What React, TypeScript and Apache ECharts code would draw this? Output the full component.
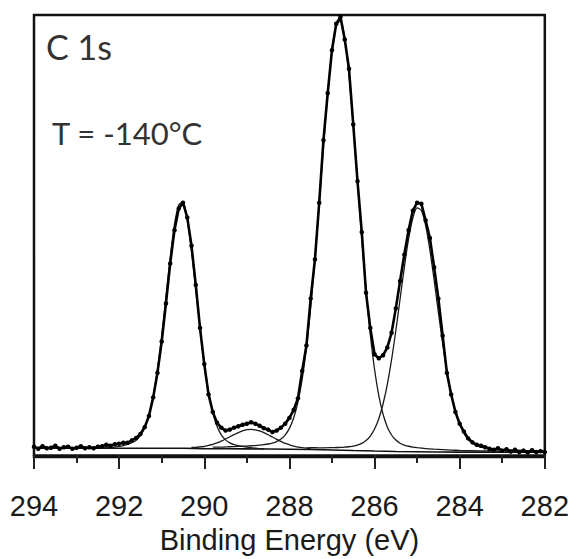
import React, { useEffect, useRef } from "react";
import * as echarts from "echarts";

// Binding energies (eV) of the measured points
const energies = [
  294.0, 293.9, 293.8, 293.7, 293.6, 293.5, 293.4, 293.3, 293.2, 293.1,
  293.0, 292.9, 292.8, 292.7, 292.6, 292.5, 292.4, 292.3, 292.2, 292.1,
  292.0, 291.9, 291.8, 291.7, 291.6, 291.5, 291.4, 291.3, 291.2, 291.1,
  291.0, 290.9, 290.8, 290.7, 290.6, 290.5, 290.4, 290.3, 290.2, 290.1,
  290.0, 289.9, 289.8, 289.7, 289.6, 289.5, 289.4, 289.3, 289.2, 289.1,
  289.0, 288.9, 288.8, 288.7, 288.6, 288.5, 288.4, 288.3, 288.2, 288.1,
  288.0, 287.9, 287.8, 287.7, 287.6, 287.5, 287.4, 287.3, 287.2, 287.1,
  287.0, 286.9, 286.8, 286.7, 286.6, 286.5, 286.4, 286.3, 286.2, 286.1,
  286.0, 285.9, 285.8, 285.7, 285.6, 285.5, 285.4, 285.3, 285.2, 285.1,
  285.0, 284.9, 284.8, 284.7, 284.6, 284.5, 284.4, 284.3, 284.2, 284.1,
  284.0, 283.9, 283.8, 283.7, 283.6, 283.5, 283.4, 283.3, 283.2, 283.1,
  283.0, 282.9, 282.8, 282.7, 282.6, 282.5, 282.4, 282.3, 282.2, 282.1,
  282.0,
];

// Measured intensity (arb. units)
const intensity = [
  8.5, 6.5, 9, 7, 7.5, 9.5, 6.5, 8, 8.5, 6.5,
  7.5, 9, 7, 8, 7, 8.5, 9, 10.5, 9.5, 11,
  11.5, 12.5, 12.5, 15, 17.5, 21.5, 28.5, 40, 59, 84,
  116, 155, 196, 230, 252, 258, 243, 214, 174, 130,
  93, 62, 44, 33, 28, 25, 26, 28, 29.5, 31,
  32, 33.5, 32, 30, 27.5, 26, 23.5, 25, 28, 32,
  38, 46, 58, 86, 112, 160, 200, 258, 322, 370,
  414, 441, 448, 425, 395, 338, 280, 228, 166, 130,
  103, 99, 102, 110, 125, 150, 178, 205, 230, 250,
  258, 257, 240, 222, 192, 160, 122, 84, 62, 44,
  32, 24, 17, 13, 10.5, 9.5, 8, 6.5, 5.5, 7,
  4.5, 6, 3.5, 5.5, 3, 4.5, 2.5, 5, 3, 4,
  3,
];

// Background under the fit
const background = [
  [294, 7], [291, 7], [290.5, 6.9], [290, 6.6], [289.5, 6.4], [289, 6.3],
  [288.5, 6.2], [288, 6.0], [287.5, 5.7], [287, 5.2], [286.5, 4.6], [286, 4.1],
  [285.5, 3.7], [285, 3.4], [284.5, 3.1], [284, 3], [282, 3],
];

// Fitted component at ~290.5 eV
const peak1 = [
  [292.5, 7.1], [292.4, 7.3], [292.3, 7.5], [292.2, 7.8], [292.1, 8.2], [292.0, 8.8],
  [291.9, 9.7], [291.8, 10.9], [291.7, 12.6], [291.6, 15.2], [291.5, 19.8], [291.4, 27.8],
  [291.3, 40.8], [291.2, 59.8], [291.1, 87.3], [291.0, 121.9], [290.9, 161.9], [290.8, 201.9],
  [290.7, 235.8], [290.6, 255.8], [290.5, 258.3], [290.4, 240.7], [290.3, 208.7], [290.2, 169.6],
  [290.1, 129.6], [290.0, 93.5], [289.9, 64.5], [289.8, 43.4], [289.7, 29.4], [289.6, 20.6],
  [289.5, 15.5], [289.4, 12.5], [289.3, 10.7], [289.2, 9.6], [289.1, 8.8], [289.0, 8.2],
  [288.9, 7.6], [288.8, 7.0], [288.7, 6.6], [288.6, 6.3],
];

// Fitted component at ~288.9 eV
const peak2 = [
  [290.3, 7.7], [290.2, 7.9], [290.1, 8.4], [290.0, 8.9], [289.9, 9.9], [289.8, 11.0],
  [289.7, 12.5], [289.6, 14.3], [289.5, 16.4], [289.4, 18.7], [289.3, 20.9], [289.2, 23.0],
  [289.1, 24.7], [289.0, 25.9], [288.9, 26.3], [288.8, 25.8], [288.7, 24.6], [288.6, 22.9],
  [288.5, 20.8], [288.4, 18.4], [288.3, 16.1], [288.2, 14.0], [288.1, 12.0], [288.0, 10.5],
  [287.9, 9.2], [287.8, 8.2], [287.7, 7.5], [287.6, 7.0], [287.5, 6.6],
];

// Fitted component at ~286.8 eV
const peak3 = [
  [289.8, 8.1], [289.6, 8.2], [289.4, 8.5], [289.2, 8.8], [289.0, 9.2], [288.9, 9.5],
  [288.8, 9.7], [288.7, 10.1], [288.6, 10.6], [288.5, 11.3], [288.4, 12.3], [288.3, 13.8],
  [288.2, 16.3], [288.1, 20.4], [288.0, 27.3], [287.9, 37.9], [287.8, 54.2], [287.7, 77.6],
  [287.6, 109.8], [287.5, 151.0], [287.4, 200.9], [287.3, 257.1], [287.2, 315.1], [287.1, 369.4],
  [287.0, 413.1], [286.9, 439.4], [286.8, 443.9], [286.7, 425.7], [286.6, 388.0], [286.5, 336.9],
  [286.4, 279.4], [286.3, 221.6], [286.2, 168.6], [286.1, 123.6], [286.0, 87.7], [285.9, 60.7],
  [285.8, 41.7], [285.7, 28.8], [285.6, 20.5], [285.5, 15.4], [285.4, 12.1], [285.3, 10.1],
  [285.2, 9.0], [285.1, 8.1], [285.0, 7.5], [284.8, 6.6], [284.6, 6.0], [284.4, 5.5],
  [284.2, 5.05], [284.0, 4.75], [283.5, 4.3], [283.0, 4.0],
];

// Fitted component at ~285.0 eV
const peak4 = [
  [287.6, 7.4], [287.4, 7.45], [287.2, 7.4], [287.0, 7.55], [286.9, 7.7], [286.8, 7.75],
  [286.7, 8.0], [286.6, 8.5], [286.5, 9.1], [286.4, 10.2], [286.3, 11.9], [286.2, 14.8],
  [286.1, 19.4], [286.0, 26.6], [285.9, 37.2], [285.8, 52.2], [285.7, 72.2], [285.6, 97.5],
  [285.5, 127.1], [285.4, 159.6], [285.3, 192.0], [285.2, 221.0], [285.1, 242.4], [285.0, 252.8],
  [284.9, 250.0], [284.8, 234.9], [284.7, 209.8], [284.6, 178.9], [284.5, 145.9], [284.4, 114.2],
  [284.3, 86.0], [284.2, 62.8], [284.1, 44.7], [284.0, 31.4], [283.9, 22.2], [283.8, 16.1],
  [283.7, 12.2], [283.6, 9.7], [283.5, 8.2], [283.4, 7.2], [283.3, 6.5], [283.2, 6.05],
  [283.1, 5.75], [283.0, 5.5], [282.5, 4.7], [282.0, 4.1],
];

const xMin = 282;
const xMax = 294;
const xStep = 2;
const axisTitle = "Binding Energy (eV)";
const panelLabel = "C 1s";
const tempLabel = "T = -140°C";

export default function App() {
  const ref = useRef<HTMLDivElement>(null);

  useEffect(() => {
    if (!ref.current) return;
    const chart = echarts.init(ref.current, null, { renderer: "svg" });
    const compLine = (data: number[][]) => ({
      type: "line",
      data,
      smooth: 0.3,
      symbol: "none",
      lineStyle: { color: "#1a1a1a", width: 1.3 },
      z: 2,
    });
    chart.setOption({
      animation: false,
      backgroundColor: "#ffffff",
      grid: {
        left: 34,
        right: 25.5,
        top: 15,
        bottom: 92,
        show: true,
        borderColor: "#111",
        borderWidth: 2.5,
      },
      xAxis: {
        type: "value",
        min: xMin,
        max: xMax,
        interval: xStep,
        inverse: true,
        offset: 6,
        axisLine: { show: true, lineStyle: { color: "#111", width: 2.5 } },
        axisTick: { show: true, length: 14, lineStyle: { color: "#222", width: 2 } },
        minorTick: { show: true, splitNumber: 2, length: 8, lineStyle: { color: "#222", width: 2 } },
        splitLine: { show: false },
        minorSplitLine: { show: false },
        axisLabel: {
          fontFamily: "Liberation Sans, Arial, sans-serif",
          fontSize: 29,
          color: "#1a1a1a",
          margin: 28,
        },
        name: axisTitle,
        nameLocation: "middle",
        nameGap: 62,
        nameTextStyle: {
          fontFamily: "Liberation Sans, Arial, sans-serif",
          fontSize: 29,
          color: "#1a1a1a",
        },
      },
      yAxis: { type: "value", min: -2, max: 450, show: false },
      graphic: [
        {
          type: "text",
          x: 46,
          y: 46.5,
          style: {
            text: panelLabel,
            font: "34px Lato",
            fill: "#333",
            textVerticalAlign: "middle",
            verticalAlign: "middle",
          },
        },
        {
          type: "text",
          x: 52,
          y: 133,
          style: {
            text: tempLabel,
            font: "31px Lato",
            fill: "#333",
            textVerticalAlign: "middle",
            verticalAlign: "middle",
          },
        },
      ],
      series: [
        {
          type: "line",
          data: background,
          symbol: "none",
          lineStyle: { color: "#111", width: 1.6 },
          z: 2,
        },
        compLine(peak1),
        compLine(peak2),
        compLine(peak3),
        compLine(peak4),
        {
          type: "line",
          data: energies.map((e, i) => [e, intensity[i]]),
          symbol: "circle",
          symbolSize: 4.5,
          showSymbol: true,
          itemStyle: { color: "#000" },
          lineStyle: { color: "#000", width: 2.6 },
          z: 5,
        },
      ],
    });
    return () => chart.dispose();
  }, []);

  return (
    <div
      ref={ref}
      style={{ position: "fixed", left: 0, top: 0, width: 572, height: 559, background: "#fff" }}
    />
  );
}
